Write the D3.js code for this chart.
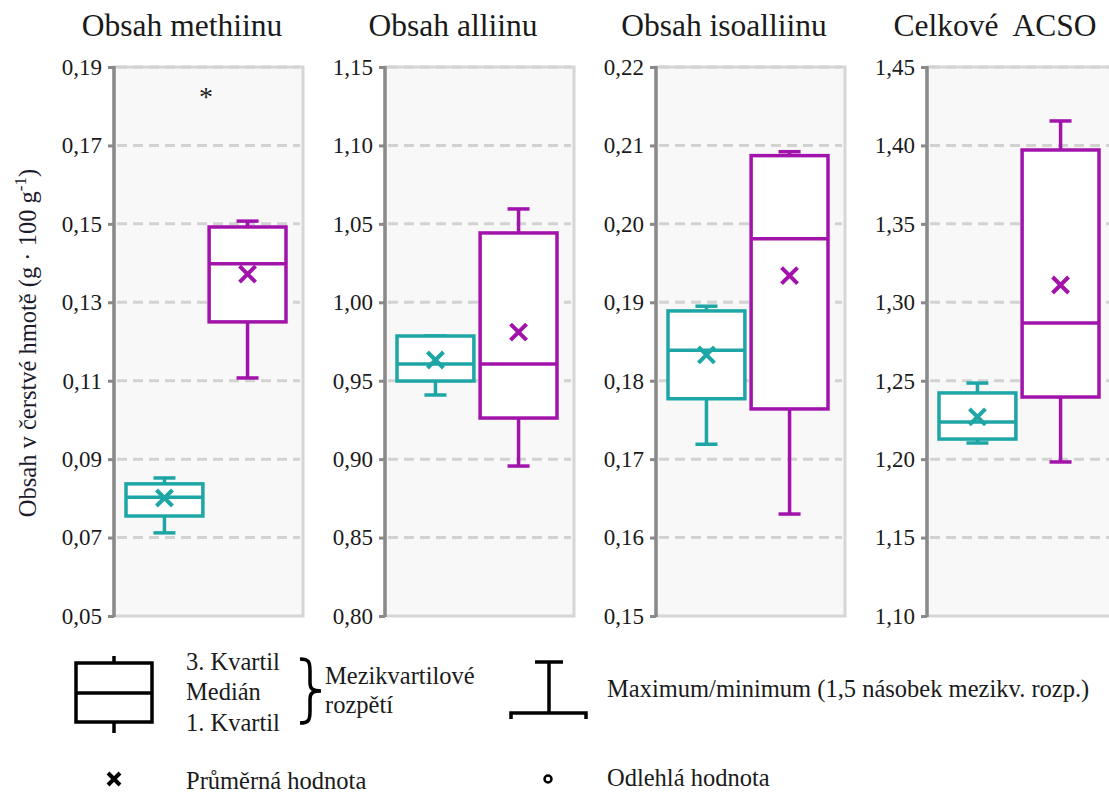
<!DOCTYPE html>
<html>
<head>
<meta charset="utf-8">
<script src="https://cdn.jsdelivr.net/npm/d3@7"></script>
<style>
  html, body { margin: 0; padding: 0; background: #fff; }
  svg { display: block; font-family: "Liberation Serif", "Times New Roman", serif; }
</style>
</head>
<body>
<svg id="chart" width="1109" height="794"></svg>
<script>
// Panel titles and y ranges
const panelTitles = ["Obsah methiinu", "Obsah alliinu", "Obsah isoalliinu", "Celkové  ACSO"];
const yDomains = [[0.05, 0.19], [0.80, 1.15], [0.15, 0.22], [1.10, 1.45]];
const yTickSteps = [0.02, 0.05, 0.01, 0.05];

// Two groups per panel
const groups = ["A", "B"];
const groupColors = ["#1ea6a6", "#a113ab"];

// Box-plot statistics, [panel][group]
const whiskerMin = [[0.0712, 0.1107], [0.9409, 0.8956], [0.1719, 0.1630], [1.2103, 1.1982]];
const quartile1  = [[0.0755, 0.1250], [0.9498, 0.9262], [0.1777, 0.1764], [1.2128, 1.2396]];
const medians    = [[0.0803, 0.1398], [0.9607, 0.9607], [0.1839, 0.1981], [1.2237, 1.2868]];
const quartile3  = [[0.0837, 0.1492], [0.9785, 1.0442], [0.1889, 0.2087], [1.2422, 1.3971]];
const whiskerMax = [[0.0852, 0.1507], [0.9785, 1.0595], [0.1895, 0.2092], [1.2485, 1.4156]];
const means      = [[0.0801, 0.1372], [0.9632, 0.9810], [0.1833, 0.1934], [1.2269, 1.3110]];

// Significance marks: panel index, value, symbol
const sigPanels = [0];
const sigValues = [0.1834];
const sigSymbols = ["*"];

const yAxisLabel = "Obsah v čerstvé hmotě (g · 100 g";

// Czech number formatting (decimal comma)
const cz = d3.formatLocale({ decimal: ",", thousands: " ", grouping: [3], currency: ["", " Kč"] });
const fmt = cz.format(".2f");

const svg = d3.select("#chart");

// Layout
const plotTop = 67, plotBottom = 616;
const plotW = 189;
const panelX = d3.scaleLinear().domain([0, 1]).range([114, 385]); // left edge of each panel's plot area

const xBand = d3.scaleBand().domain(groups).range([12, 172]).paddingInner(0.075);

svg.append("defs").append("clipPath").attr("id", "page")
  .append("rect").attr("x", 0).attr("y", 0).attr("width", 1109).attr("height", 794);

const root = svg.append("g").attr("clip-path", "url(#page)");

panelTitles.forEach((title, p) => {
  const x0 = panelX(p);
  const g = root.append("g").attr("transform", `translate(${x0},0)`);
  const [lo, hi] = yDomains[p];
  const y = d3.scaleLinear().domain([lo, hi]).range([plotBottom, plotTop]);
  const step = yTickSteps[p];
  const ticks = d3.range(0, Math.round((hi - lo) / step) + 1).map(i => +(lo + i * step).toFixed(4));

  // plot background
  g.append("rect")
    .attr("x", 0).attr("y", plotTop)
    .attr("width", plotW).attr("height", plotBottom - plotTop)
    .attr("fill", "#f8f8f8")
    .attr("stroke", "#d6d6d6").attr("stroke-width", 3);

  // dashed gridlines
  g.append("g").selectAll("line").data(ticks.filter(t => t !== lo)).join("line")
    .attr("x1", 3).attr("x2", plotW - 3)
    .attr("y1", d => y(d)).attr("y2", d => y(d))
    .attr("stroke", "#d2d2d2").attr("stroke-width", 3)
    .attr("stroke-dasharray", "10,6");

  // left axis
  const axis = d3.axisLeft(y).tickValues(ticks).tickFormat(fmt).tickSize(6).tickPadding(6);
  const ag = g.append("g").call(axis);
  ag.select(".domain").attr("stroke", "#8a8a8a").attr("stroke-width", 3.5)
    .attr("d", `M0,${plotTop - 1}V${plotBottom + 1}`);
  ag.selectAll(".tick line").attr("stroke", "#8a8a8a").attr("stroke-width", 3);
  ag.selectAll(".tick text")
    .attr("fill", "#1a1a1a")
    .style("font-family", "'Liberation Serif', serif")
    .style("font-size", "23px");

  // title
  g.append("text")
    .attr("x", 68).attr("y", 36)
    .attr("text-anchor", "middle")
    .attr("fill", "#1a1a1a")
    .style("font-size", "31.5px")
    .style("white-space", "pre")
    .text(title);

  // box plots
  groups.forEach((grp, k) => {
    const color = groupColors[k];
    const bx = xBand(grp), bw = xBand.bandwidth(), cx = bx + bw / 2;
    const capHalf = 11;
    const bg = g.append("g").attr("stroke", color).attr("stroke-width", 3.5).attr("fill", "none");

    // whiskers
    bg.append("line").attr("x1", cx).attr("x2", cx)
      .attr("y1", y(whiskerMax[p][k])).attr("y2", y(quartile3[p][k]));
    bg.append("line").attr("x1", cx).attr("x2", cx)
      .attr("y1", y(quartile1[p][k])).attr("y2", y(whiskerMin[p][k]));
    bg.append("line").attr("x1", cx - capHalf).attr("x2", cx + capHalf)
      .attr("y1", y(whiskerMax[p][k])).attr("y2", y(whiskerMax[p][k]));
    bg.append("line").attr("x1", cx - capHalf).attr("x2", cx + capHalf)
      .attr("y1", y(whiskerMin[p][k])).attr("y2", y(whiskerMin[p][k]));

    // box
    bg.append("rect")
      .attr("x", bx).attr("y", y(quartile3[p][k]))
      .attr("width", bw).attr("height", y(quartile1[p][k]) - y(quartile3[p][k]))
      .attr("fill", "#fff");
    bg.append("line").attr("x1", bx).attr("x2", bx + bw)
      .attr("y1", y(medians[p][k])).attr("y2", y(medians[p][k]));

    // mean marker
    const my = y(means[p][k]), s = 8;
    bg.append("path")
      .attr("d", `M${cx - s},${my - s}L${cx + s},${my + s}M${cx + s},${my - s}L${cx - s},${my + s}`)
      .attr("stroke-width", 4);
  });

  // significance marks
  sigPanels.forEach((sp, i) => {
    if (sp !== p) return;
    g.append("text")
      .attr("x", (xBand.range()[0] + xBand.range()[1]) / 2)
      .attr("y", y(sigValues[i]) + 13)
      .attr("text-anchor", "middle")
      .attr("fill", "#222")
      .style("font-size", "28px")
      .text(sigSymbols[i]);
  });
});

// y-axis title
const yl = svg.append("text")
  .attr("transform", "translate(36,343) rotate(-90)")
  .attr("text-anchor", "middle")
  .attr("fill", "#1c1c2c")
  .style("font-size", "24.5px");
yl.append("tspan").text(yAxisLabel);
yl.append("tspan").attr("dy", -10).style("font-size", "17px").text("-1");
yl.append("tspan").attr("dy", 10).text(")");

// Legend
const lg = svg.append("g").attr("fill", "none").attr("stroke", "#000").attr("stroke-width", 3.5);
lg.append("rect").attr("x", 76).attr("y", 663).attr("width", 76).attr("height", 59);
lg.append("line").attr("x1", 76).attr("x2", 152).attr("y1", 693).attr("y2", 693);
lg.append("line").attr("x1", 114).attr("x2", 114).attr("y1", 656).attr("y2", 663);
lg.append("line").attr("x1", 114).attr("x2", 114).attr("y1", 722).attr("y2", 733);
lg.append("path")
  .attr("d", "M300,659C309,659 310,662 310,671L310,683C310,689 313,691 321,691C313,691 310,693 310,699L310,711C310,720 309,723 300,723")
  .attr("stroke-width", 3.5);
// whisker icon
lg.append("line").attr("x1", 535).attr("x2", 563).attr("y1", 662).attr("y2", 662);
lg.append("line").attr("x1", 549).attr("x2", 549).attr("y1", 662).attr("y2", 713);
lg.append("path").attr("d", "M511,719V713H586V719");
// mean icon
lg.append("path").attr("d", "M108,773L120,785M120,773L108,785").attr("stroke-width", 4);
// outlier icon
lg.append("circle").attr("cx", 548).attr("cy", 779).attr("r", 3.5).attr("stroke-width", 2.5);

const legendTexts = [
  { t: "3. Kvartil", x: 186, y: 670 },
  { t: "Medián", x: 186, y: 700 },
  { t: "1. Kvartil", x: 186, y: 731 },
  { t: "Mezikvartilové", x: 325, y: 684 },
  { t: "rozpětí", x: 325, y: 713 },
  { t: "Maximum/minimum (1,5 násobek mezikv. rozp.)", x: 607, y: 697 },
  { t: "Průměrná hodnota", x: 186, y: 789 },
  { t: "Odlehlá hodnota", x: 607, y: 786 }
];
svg.append("g").selectAll("text").data(legendTexts).join("text")
  .attr("x", d => d.x).attr("y", d => d.y)
  .attr("fill", "#1a1a1a")
  .style("font-size", "24.5px")
  .text(d => d.t);
</script>
</body>
</html>
